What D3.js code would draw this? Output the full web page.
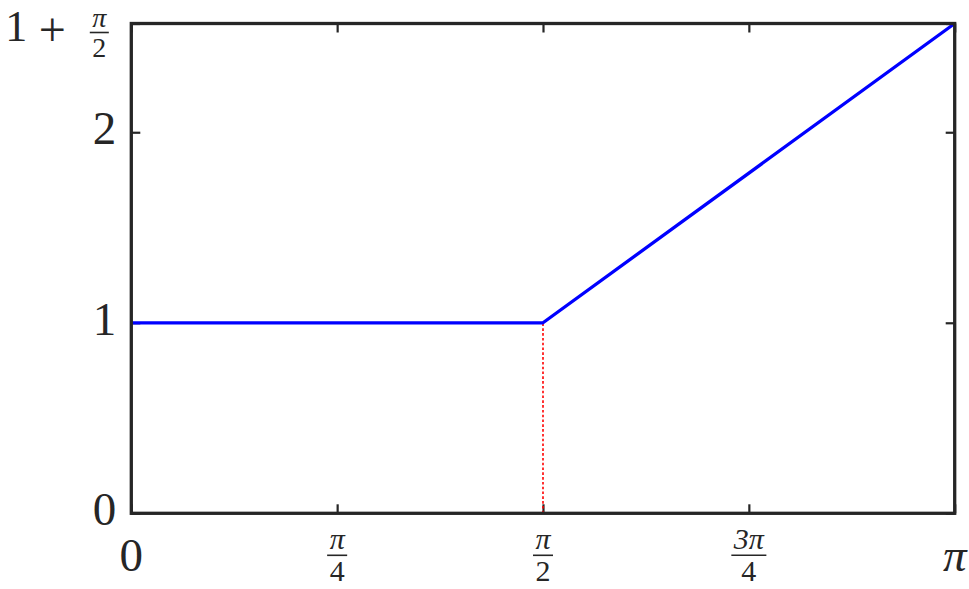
<!DOCTYPE html>
<html>
<head>
<meta charset="utf-8">
<script src="https://d3js.org/d3.v7.min.js"></script>
<style>
  html, body { margin: 0; padding: 0; background: #fff; }
  svg { display: block; }
  text { font-family: "Liberation Serif", "DejaVu Serif", serif; fill: #262626; }
</style>
</head>
<body>
<div id="chart"></div>
<script>
'use strict';

// piecewise curve: flat at 1, then slope 1 up to 1 + pi/2
const curveX = [0, Math.PI / 2, Math.PI];
const curveY = [1, 1, 1 + Math.PI / 2];

// dotted marker from the axis up to the kink
const markX = [Math.PI / 2, Math.PI / 2];
const markY = [0, 1];

const xTicks = [0, Math.PI / 4, Math.PI / 2, 3 * Math.PI / 4, Math.PI];
const xTickLabels = ['0', ['π', '4'], ['π', '2'], ['3π', '4'], 'π'];

const yTicks = [0, 1, 2, 1 + Math.PI / 2];
const yTickLabels = ['0', '1', '2', ['1', '+', 'π', '2']];

(function() {
  const width = 969;
  const height = 589;
  const margin = { top: 23.5, right: 14.3, bottom: 75.7, left: 131.3 };
  const innerW = width - margin.left - margin.right;
  const innerH = height - margin.top - margin.bottom;

  const svg = d3.select('#chart')
    .append('svg')
    .attr('width', width)
    .attr('height', height);

  const g = svg.append('g')
    .attr('transform', `translate(${margin.left},${margin.top})`);

  const x = d3.scaleLinear().domain([0, Math.PI]).range([0, innerW]);
  const y = d3.scaleLinear().domain([0, 1 + Math.PI / 2]).range([innerH, 0]);

  const axisColor = '#262626';
  const tickLen = 9;

  // ticks on all four sides, pointing inward, no built-in labels
  function styleAxis(sel) {
    sel.select('.domain').remove();
    sel.selectAll('.tick line')
      .attr('stroke', axisColor)
      .attr('stroke-width', 2.2);
    sel.selectAll('.tick text').remove();
  }

  g.append('g')
    .attr('transform', `translate(0,${innerH})`)
    .call(d3.axisBottom(x).tickValues(xTicks).tickSizeInner(-tickLen).tickSizeOuter(0))
    .call(styleAxis);
  g.append('g')
    .call(d3.axisTop(x).tickValues(xTicks).tickSizeInner(-tickLen).tickSizeOuter(0))
    .call(styleAxis);
  g.append('g')
    .call(d3.axisLeft(y).tickValues(yTicks).tickSizeInner(-tickLen).tickSizeOuter(0))
    .call(styleAxis);
  g.append('g')
    .attr('transform', `translate(${innerW},0)`)
    .call(d3.axisRight(y).tickValues(yTicks).tickSizeInner(-tickLen).tickSizeOuter(0))
    .call(styleAxis);

  // stacked fraction, bar centred on (cx, barY)
  const bigSize = 47;
  const fracSize = 30;
  function fraction(parent, cx, barY, num, den, size) {
    const fs = size || fracSize;
    const fg = parent.append('g');
    const n = fg.append('text')
      .attr('x', cx).attr('y', barY - 6)
      .attr('text-anchor', 'middle')
      .style('font-size', fs + 'px')
      .style('font-style', 'italic')
      .text(num);
    const d = fg.append('text')
      .attr('x', cx).attr('y', barY + fs * 0.87)
      .attr('text-anchor', 'middle')
      .style('font-size', fs + 'px')
      .text(den);
    const w = Math.max(n.node().getComputedTextLength(), d.node().getComputedTextLength()) + 5;
    fg.append('line')
      .attr('x1', cx - w / 2).attr('x2', cx + w / 2)
      .attr('y1', barY).attr('y2', barY)
      .attr('stroke', axisColor)
      .attr('stroke-width', 1.6);
  }

  // x tick labels
  xTickLabels.forEach((lab, i) => {
    const px = x(xTicks[i]);
    if (typeof lab === 'string') {
      g.append('text')
        .attr('x', px).attr('y', innerH + 58)
        .attr('text-anchor', 'middle')
        .style('font-size', bigSize + 'px')
        .style('font-style', lab === 'π' ? 'italic' : null)
        .text(lab);
    } else {
      fraction(g, px, innerH + 42, lab[0], lab[1]);
    }
  });

  // y tick labels
  const labelRight = -15;
  yTickLabels.forEach((lab, i) => {
    const py = y(yTicks[i]);
    if (typeof lab === 'string') {
      g.append('text')
        .attr('x', labelRight).attr('y', py + 12)
        .attr('text-anchor', 'end')
        .style('font-size', bigSize + 'px')
        .text(lab);
    } else {
      // "1 + pi/2" laid out as inline math, nudged down to stay inside the page
      const fcx = labelRight - 17;
      const by = py + 9;
      fraction(g, fcx, by, lab[2], lab[3], 28);
      g.append('text')
        .attr('x', fcx - 47).attr('y', by + 13)
        .attr('text-anchor', 'middle')
        .style('font-size', '48px')
        .text(lab[1]);
      g.append('text')
        .attr('x', fcx - 72).attr('y', by + 8)
        .attr('text-anchor', 'end')
        .style('font-size', '44px')
        .text(lab[0]);
    }
  });

  // red dotted marker
  const line = d3.line().x(d => x(d[0])).y(d => y(d[1]));
  g.append('path')
    .datum(d3.zip(markX, markY))
    .attr('d', line)
    .attr('fill', 'none')
    .attr('stroke', '#ff0000')
    .attr('stroke-width', 1.6)
    .attr('stroke-dasharray', '2.6,2.2');

  // main curve
  g.append('path')
    .datum(d3.zip(curveX, curveY))
    .attr('d', line)
    .attr('fill', 'none')
    .attr('stroke', '#0000ff')
    .attr('stroke-width', 3.3)
    .attr('stroke-linejoin', 'round');

  // box
  g.append('rect')
    .attr('x', 0).attr('y', 0)
    .attr('width', innerW).attr('height', innerH)
    .attr('fill', 'none')
    .attr('stroke', axisColor)
    .attr('stroke-width', 3.3);
})();
</script>
</body>
</html>
